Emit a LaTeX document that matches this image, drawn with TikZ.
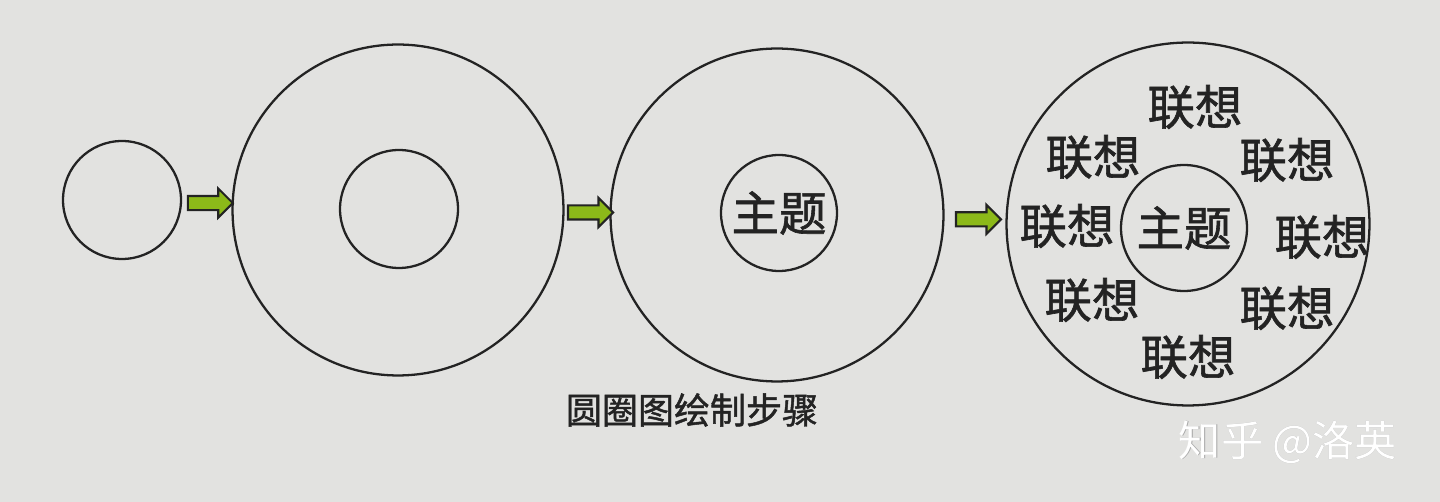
\documentclass[tikz,border=0pt]{standalone}
\usepackage{fontspec}
\newfontfamily\cjk{Noto Sans CJK SC}[UprightFeatures={FakeBold=1.3}]
\newfontfamily\cjkthin{Noto Sans CJK SC}
\usetikzlibrary{positioning,shapes.arrows}
\definecolor{paper}{RGB}{226,226,224}
\definecolor{ink}{RGB}{35,35,35}
\definecolor{leaf}{RGB}{140,185,25}
\tikzset{
  ring/.style={circle, draw=ink, line width=1.3pt, inner sep=0pt},
  idea/.style={text=ink, font=\cjk\fontsize{27pt}{27pt}\selectfont, inner sep=0pt},
  blockarrow/.style={single arrow, draw=ink, fill=leaf, line width=1.2pt,
    inner sep=0.12cm, minimum height=0.9cm, single arrow head extend=0.15cm,
    single arrow head indent=0pt}
}
\begin{document}
\begin{tikzpicture}[x=0.02cm, y=-0.02cm]
      \fill[paper] (0,0) rectangle (1440,502);
      \useasboundingbox (0,0) rectangle (1440,502);

      % Nodes
      \node (c1) [ring, minimum size=2.36cm] at (122,200) {};
      \node (c2o) [ring, minimum size=6.62cm] at (398,210) {};
      \node (c2i) [ring, minimum size=2.36cm] at (399,209) {};
      \node (c3o) [ring, minimum size=6.66cm] at (777,215) {};
      \node (c3i) [ring, minimum size=2.32cm] at (779,213) {};
      \node (t3) [idea] at (c3i) {主题};
      \node (c4o) [ring, minimum size=7.26cm] at (1188,224) {};
      \node (c4i) [ring, minimum size=2.52cm] at (1184,228) {};
      \node (t4) [idea] at (c4i) {主题};
      \node (a1) [idea] at (1195,107) {联想};
      \node (a2) [idea] at (1093,157) {联想};
      \node (a3) [idea] at (1287,160) {联想};
      \node (a4) [idea] at (1067,226) {联想};
      \node (a5) [idea] at (1322,237) {联想};
      \node (a6) [idea] at (1092,300) {联想};
      \node (a7) [idea] at (1287,308) {联想};
      \node (a8) [idea] at (1188,357) {联想};
      \node (cap) [text=ink, font=\cjk\fontsize{20.5pt}{20.5pt}\selectfont] at (692,410) {圆圈图绘制步骤};
      \node (mark) [text=white, font=\cjkthin\fontsize{24pt}{24pt}\selectfont] at (1288,442)
        {\tikz[baseline]{\node[text=black!35, inner sep=0pt, anchor=base] at (0.03,-0.03) {知乎 @洛英};
                         \node[text=white, inner sep=0pt, anchor=base] at (0,0) {知乎 @洛英};}};

      % Arrows
      \path (c1) -- node[blockarrow] {} (c2o);
      \path (c2o) -- node[blockarrow] {} (c3o);
      \path (c3o) -- node[blockarrow] {} (c4o);

\end{tikzpicture}
\end{document}
